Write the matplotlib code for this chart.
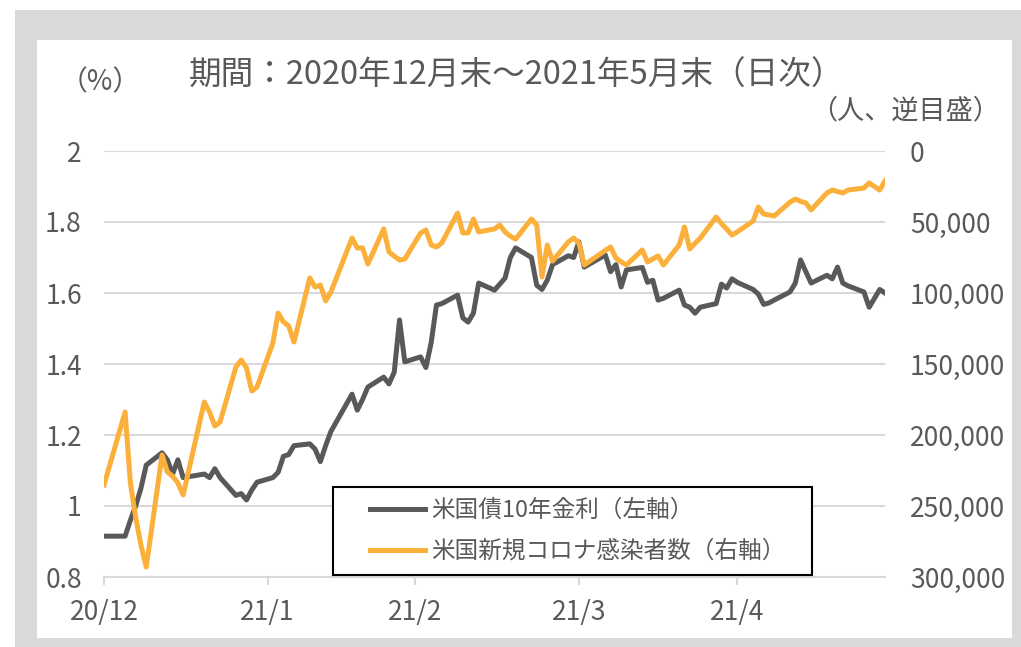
import matplotlib
matplotlib.use("Agg")
import matplotlib.pyplot as plt
import matplotlib.patches as patches
import pandas as pd

plt.rcParams['font.family'] = ['Noto Sans CJK JP', 'DejaVu Sans']

# business days, end of Dec 2020 to end of May 2021
dates = ['2020-12-31',
         '2021-01-04', '2021-01-05', '2021-01-06', '2021-01-07', '2021-01-08',
         '2021-01-11', '2021-01-12', '2021-01-13', '2021-01-14', '2021-01-15',
         '2021-01-19', '2021-01-20', '2021-01-21', '2021-01-22',
         '2021-01-25', '2021-01-26', '2021-01-27', '2021-01-28', '2021-01-29',
         '2021-02-01', '2021-02-02', '2021-02-03', '2021-02-04', '2021-02-05',
         '2021-02-08', '2021-02-09', '2021-02-10', '2021-02-11', '2021-02-12',
         '2021-02-16', '2021-02-17', '2021-02-18', '2021-02-19',
         '2021-02-22', '2021-02-23', '2021-02-24', '2021-02-25', '2021-02-26',
         '2021-03-01', '2021-03-02', '2021-03-03', '2021-03-04', '2021-03-05',
         '2021-03-08', '2021-03-09', '2021-03-10', '2021-03-11', '2021-03-12',
         '2021-03-15', '2021-03-16', '2021-03-17', '2021-03-18', '2021-03-19',
         '2021-03-22', '2021-03-23', '2021-03-24', '2021-03-25', '2021-03-26',
         '2021-03-29', '2021-03-30', '2021-03-31', '2021-04-01',
         '2021-04-05', '2021-04-06', '2021-04-07', '2021-04-08', '2021-04-09',
         '2021-04-12', '2021-04-13', '2021-04-14', '2021-04-15', '2021-04-16',
         '2021-04-19', '2021-04-20', '2021-04-21', '2021-04-22', '2021-04-23',
         '2021-04-26', '2021-04-27', '2021-04-28', '2021-04-29', '2021-04-30',
         '2021-05-03', '2021-05-04', '2021-05-05', '2021-05-06', '2021-05-07',
         '2021-05-10', '2021-05-11', '2021-05-12', '2021-05-13', '2021-05-14',
         '2021-05-17', '2021-05-18', '2021-05-19', '2021-05-20', '2021-05-21',
         '2021-05-24', '2021-05-25', '2021-05-26', '2021-05-27', '2021-05-28']

# US 10y treasury yield (%)
yield_10y = [0.915,
             0.915, 0.96, 1.00, 1.05, 1.115,
             1.15, 1.13, 1.09, 1.13, 1.08,
             1.09, 1.08, 1.105, 1.08,
             1.03, 1.035, 1.017, 1.045, 1.067,
             1.08, 1.095, 1.14, 1.145, 1.17,
             1.175, 1.16, 1.125, 1.17, 1.21,
             1.315, 1.27, 1.30, 1.335,
             1.363, 1.344, 1.377, 1.524, 1.406,
             1.42, 1.39, 1.46, 1.566, 1.57,
             1.594, 1.53, 1.518, 1.543, 1.628,
             1.608, 1.625, 1.642, 1.70, 1.727,
             1.70, 1.622, 1.61, 1.636, 1.68,
             1.705, 1.70, 1.744, 1.673,
             1.707, 1.66, 1.68, 1.617, 1.665,
             1.672, 1.63, 1.636, 1.58, 1.585,
             1.608, 1.566, 1.56, 1.543, 1.56,
             1.57, 1.625, 1.614, 1.64, 1.63,
             1.61, 1.597, 1.568, 1.572, 1.58,
             1.603, 1.628, 1.693, 1.66, 1.628,
             1.65, 1.64, 1.673, 1.628, 1.62,
             1.603, 1.56, 1.585, 1.61, 1.60]

# US new covid cases (persons)
new_cases = [235200,
             183800, 233800, 258000, 277500, 293000,
             214100, 226000, 229000, 233800, 242200,
             176800, 183800, 193700, 190800,
             152100, 147200, 152800, 169000, 166200,
             135200, 114100, 120400, 123200, 134500,
             89400, 95800, 94400, 105600, 99300,
             61300, 68300, 68300, 79600,
             54900, 71100, 74000, 76800, 76100,
             57700, 55600, 66200, 67600, 64800,
             43700, 57700, 57700, 47900, 57000,
             54900, 52100, 57000, 60000, 62000,
             47900, 52100, 88700, 66200, 77500,
             64000, 61300, 64800, 80300,
             70000, 67600, 75400, 78000, 80300,
             69700, 78200, 76000, 73900, 80300,
             66200, 53500, 69000, 65000, 61300,
             46500, 51000, 55000, 59200, 57000,
             49300, 39400, 44400, 45000, 45800,
             36000, 33800, 35500, 36600, 41500,
             29500, 27500, 28500, 29600, 27500,
             26100, 22500, 25000, 27500, 21100]

tick_dates = ['2020-12-31', '2021-01-31', '2021-02-28', '2021-03-31', '2021-04-30']
tick_labels = ['20/12', '21/1', '21/2', '21/3', '21/4']
left_ticks = [0.8, 1.0, 1.2, 1.4, 1.6, 1.8, 2.0]
left_labels = ['0.8', '1', '1.2', '1.4', '1.6', '1.8', '2']
right_ticks = [0, 50000, 100000, 150000, 200000, 250000, 300000]

x = pd.to_datetime(dates)
W, H = 1021, 647
text_col = '#595959'
grid_col = '#d9d9d9'

fig = plt.figure(figsize=(W / 100, H / 100), dpi=100)
fig.patches.append(patches.Rectangle((15 / W, 0), 1 - 15 / W, 1 - 10 / H,
                                     transform=fig.transFigure, facecolor='#d9d9d9',
                                     edgecolor='none', zorder=-10))
fig.patches.append(patches.Rectangle((37 / W, 1 - 638 / H), (1012 - 37) / W, (638 - 40) / H,
                                     transform=fig.transFigure, facecolor='white',
                                     edgecolor='none', zorder=-9))

ax = fig.add_axes([104 / W, 1 - 577 / H, (885 - 104) / W, (577 - 151) / H])
ax.patch.set_alpha(0)
ax2 = ax.twinx()

l1, = ax.plot(x, yield_10y, color='#595959', lw=3.6, solid_joinstyle='round',
              label='米国債10年金利（左軸）', zorder=3)
l2, = ax2.plot(x, new_cases, color='#FBB03B', lw=3.6, solid_joinstyle='round',
               label='米国新規コロナ感染者数（右軸）', zorder=3)

ax.set_ylim(0.8, 2.0)
ax.set_yticks(left_ticks)
ax.set_yticklabels(left_labels)
ax2.set_ylim(300000, 0)
ax2.set_yticks(right_ticks)
ax2.set_yticklabels([f'{v:,}' for v in right_ticks])

ax.set_xlim(pd.Timestamp('2020-12-31'), pd.Timestamp('2021-05-28'))
ax.set_xticks(pd.to_datetime(tick_dates))
ax.set_xticklabels(tick_labels)

ax.grid(axis='y', color=grid_col, lw=1.5)
ax.set_axisbelow(True)
for a in (ax, ax2):
    for s in ('left', 'right', 'top', 'bottom'):
        a.spines[s].set_visible(False)
ax.spines['bottom'].set_visible(True)
ax.spines['bottom'].set_color(grid_col)
ax.spines['bottom'].set_linewidth(1.5)

ax.tick_params(axis='y', length=0, pad=16, labelsize=19, labelcolor=text_col)
ax2.tick_params(axis='y', length=0, pad=18, labelsize=19, labelcolor=text_col)
ax.tick_params(axis='x', length=6, width=1.5, color=grid_col, pad=10,
               labelsize=19, labelcolor=text_col)

fig.text(517 / W, 1 - 76 / H, '期間：2020年12月末～2021年5月末（日次）', ha='center', va='center',
         fontsize=23.5, color=text_col)
fig.text(100 / W, 1 - 82 / H, '（%）', ha='center', va='center', fontsize=20, color=text_col)
fig.text(905 / W, 1 - 111 / H, '（人、逆目盛）', ha='center', va='center', fontsize=19.5,
         color=text_col)

# legend box drawn separately so the inner padding can match
box = patches.Rectangle((333 / W, 1 - 575 / H), (812 - 333) / W, (575 - 487) / H,
                        transform=fig.transFigure, facecolor='white',
                        edgecolor='black', lw=1.5, zorder=5, clip_on=False)
ax2.add_patch(box)
leg = ax2.legend(handles=[l1, l2], loc='center left',
                 bbox_to_anchor=(370 / W, 1 - 531 / H), bbox_transform=fig.transFigure,
                 fontsize=17, frameon=False,
                 handlelength=2.35, handletextpad=0.25, labelspacing=0.75,
                 borderpad=0, borderaxespad=0)
leg.set_zorder(6)
for t in leg.get_texts():
    t.set_color(text_col)

fig.savefig('out.png', dpi=100)
